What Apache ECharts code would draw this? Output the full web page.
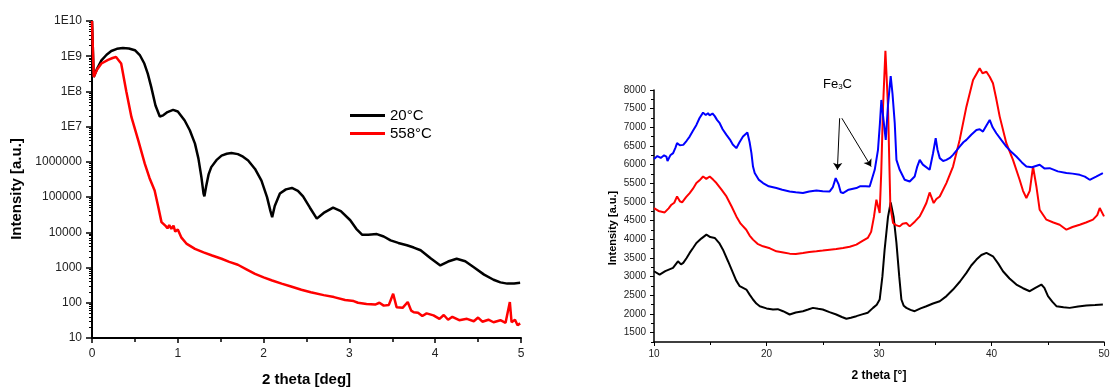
<!DOCTYPE html>
<html>
<head>
<meta charset="utf-8">
<script src="https://cdn.jsdelivr.net/npm/echarts@6/dist/echarts.min.js"></script>
<style>html,body{margin:0;padding:0;background:#fff}#c{width:1111px;height:387px}</style>
</head>
<body>
<div id="c"></div>
<script>
// ---------- Left chart (XRR, log scale) ----------
const leftLegend = ['20°C', '558°C'];
const left20X = [0, 0.02, 0.06, 0.11, 0.17, 0.225, 0.29, 0.36, 0.43, 0.5, 0.56, 0.61, 0.65, 0.69, 0.74, 0.79, 0.83, 0.88, 0.945, 1.0, 1.08, 1.14, 1.2, 1.24, 1.275, 1.3, 1.31, 1.33, 1.36, 1.39, 1.45, 1.51, 1.57, 1.625, 1.7, 1.76, 1.82, 1.9, 1.975, 2.04, 2.08, 2.1, 2.13, 2.19, 2.26, 2.33, 2.4, 2.46, 2.54, 2.62, 2.7, 2.81, 2.9, 3.01, 3.08, 3.15, 3.22, 3.32, 3.4, 3.48, 3.57, 3.67, 3.75, 3.83, 3.95, 4.06, 4.15, 4.25, 4.35, 4.45, 4.57, 4.68, 4.76, 4.84, 4.92, 4.99];
const left20Y = [1e10, 2.57e8, 4.47e8, 7.6e8, 1.1e9, 1.41e9, 1.62e9, 1.7e9, 1.66e9, 1.48e9, 1.05e9, 6.2e8, 3.2e8, 1.35e8, 4e7, 1.95e7, 2.1e7, 2.6e7, 3.0e7, 2.7e7, 1.5e7, 7.9e6, 3.3e6, 1.26e6, 3.7e5, 1.26e5, 1.05e5, 2.0e5, 4.5e5, 7.1e5, 1.12e6, 1.51e6, 1.7e6, 1.78e6, 1.66e6, 1.41e6, 1.1e6, 6.3e5, 2.95e5, 1.0e5, 4.0e4, 2.7e4, 5.6e4, 1.26e5, 1.66e5, 1.82e5, 1.51e5, 1.05e5, 5.0e4, 2.45e4, 3.55e4, 5.0e4, 4.0e4, 2.2e4, 1.26e4, 8500, 8500, 8900, 7600, 5900, 5000, 4300, 3700, 3100, 1800, 1150, 1480, 1780, 1510, 1020, 630, 450, 380, 350, 355, 370];
const left558X = [0, 0.02, 0.06, 0.11, 0.187, 0.24, 0.28, 0.3, 0.34, 0.4, 0.46, 0.54, 0.615, 0.67, 0.73, 0.77, 0.81, 0.86, 0.88, 0.9, 0.925, 0.95, 0.97, 1.0, 1.04, 1.1, 1.2, 1.3, 1.4, 1.51, 1.6, 1.7, 1.8, 1.9, 2.0, 2.1, 2.21, 2.32, 2.44, 2.55, 2.7, 2.82, 2.95, 3.05, 3.1, 3.2, 3.3, 3.35, 3.4, 3.46, 3.51, 3.55, 3.62, 3.68, 3.72, 3.75, 3.8, 3.85, 3.9, 3.98, 4.05, 4.1, 4.15, 4.2, 4.28, 4.37, 4.45, 4.5, 4.55, 4.62, 4.68, 4.76, 4.82, 4.87, 4.89, 4.93, 4.96, 4.99];
const left558Y = [1e10, 2.57e8, 4.2e8, 6.2e8, 7.9e8, 8.9e8, 9.5e8, 9.3e8, 6.2e8, 1e8, 1.86e7, 4e6, 8.9e5, 3.5e5, 1.55e5, 5.6e4, 1.95e4, 1.5e4, 1.3e4, 1.6e4, 1.25e4, 1.55e4, 1.05e4, 1.2e4, 7200, 4800, 3400, 2700, 2200, 1780, 1450, 1200, 890, 660, 525, 430, 350, 290, 235, 200, 165, 145, 120, 112, 100, 93, 89, 100, 83, 87, 180, 75, 72, 105, 60, 54, 52, 42, 50, 44, 35, 45, 33, 40, 32, 35, 30, 38, 29, 33, 28, 32, 27, 105, 28, 33, 23, 26];

// ---------- Right chart (XRD) ----------
const rightNames = ['sample A', 'sample B', 'sample C'];
const blueX = [10.0, 10.3, 10.6, 10.9, 11.1, 11.2, 11.45, 11.7, 11.9, 12.05, 12.3, 12.6, 12.9, 13.17, 13.45, 13.77, 14.05, 14.36, 14.6, 14.8, 14.95, 15.2, 15.4, 15.6, 15.84, 16.1, 16.44, 16.8, 17.0, 17.32, 17.6, 17.91, 18.3, 18.5, 18.66, 18.8, 18.95, 19.3, 19.69, 20.2, 20.88, 21.4, 22.06, 22.6, 23.24, 23.8, 24.44, 25.0, 25.62, 25.9, 26.15, 26.4, 26.6, 26.8, 27.3, 27.99, 28.3, 28.8, 29.17, 29.62, 29.91, 30.08, 30.21, 30.4, 30.6, 30.8, 31.04, 31.2, 31.4, 31.55, 31.84, 32.28, 32.73, 33.17, 33.4, 33.62, 33.9, 34.06, 34.5, 34.8, 35.04, 35.2, 35.4, 35.7, 35.99, 36.3, 36.58, 36.9, 37.17, 37.5, 37.77, 38.2, 38.66, 38.95, 39.24, 39.55, 39.84, 40.1, 40.43, 40.9, 41.32, 41.8, 42.21, 42.7, 43.1, 43.6, 44.28, 44.7, 45.17, 45.9, 46.66, 47.2, 47.84, 48.3, 48.73, 49.3, 49.9];
const blueY = [6150, 6230, 6180, 6250, 6218, 6100, 6250, 6309, 6450, 6576, 6520, 6530, 6640, 6752, 6900, 7065, 7250, 7394, 7330, 7380, 7320, 7370, 7300, 7200, 7110, 6950, 6797, 6650, 6540, 6442, 6600, 6752, 6860, 6600, 6309, 5950, 5774, 5600, 5507, 5420, 5373, 5330, 5283, 5260, 5240, 5280, 5310, 5290, 5283, 5400, 5640, 5480, 5260, 5240, 5330, 5373, 5420, 5420, 5416, 5862, 6397, 7100, 7733, 7200, 6664, 7600, 8374, 7900, 7110, 6129, 5862, 5595, 5550, 5684, 5950, 6129, 6000, 5996, 5862, 6300, 6709, 6400, 6175, 6100, 6129, 6180, 6263, 6380, 6485, 6600, 6664, 6800, 6931, 6950, 6886, 7050, 7198, 7000, 6842, 6650, 6485, 6330, 6218, 6060, 5950, 5930, 5996, 5900, 5907, 5820, 5774, 5760, 5728, 5680, 5595, 5680, 5774];
const redX = [10.0, 10.4, 10.95, 11.3, 11.55, 11.8, 12.05, 12.3, 12.5, 12.85, 13.17, 13.45, 13.77, 14.05, 14.36, 14.65, 14.95, 15.25, 15.55, 16.0, 16.44, 16.9, 17.32, 17.7, 18.2, 18.5, 18.8, 19.2, 19.69, 20.3, 20.88, 21.5, 22.06, 22.6, 23.24, 23.8, 24.44, 25.0, 25.62, 26.2, 26.8, 27.4, 27.99, 28.5, 29.0, 29.3, 29.55, 29.77, 30.06, 30.2, 30.36, 30.57, 30.8, 31.01, 31.25, 31.5, 31.84, 32.1, 32.43, 32.73, 33.2, 33.62, 33.9, 34.21, 34.5, 34.86, 35.1, 35.4, 35.99, 36.58, 37.17, 37.77, 38.36, 38.7, 38.95, 39.2, 39.55, 39.85, 40.13, 40.4, 40.73, 41.32, 41.91, 42.5, 42.8, 43.1, 43.4, 43.69, 43.99, 44.28, 44.88, 45.5, 46.06, 46.66, 47.2, 47.84, 48.4, 49.02, 49.4, 49.62, 50.0];
const redY = [4838, 4760, 4721, 4830, 4927, 4980, 5149, 5020, 4990, 5130, 5240, 5350, 5507, 5580, 5684, 5620, 5684, 5600, 5507, 5330, 5149, 4880, 4614, 4420, 4258, 4100, 3992, 3880, 3813, 3760, 3679, 3650, 3617, 3610, 3636, 3660, 3679, 3700, 3724, 3740, 3769, 3800, 3858, 3950, 4037, 4200, 4600, 5060, 4704, 5800, 7554, 9050, 7554, 4881, 4437, 4380, 4347, 4420, 4437, 4347, 4480, 4614, 4780, 4972, 5256, 4972, 5080, 5149, 5507, 5950, 6664, 7554, 8267, 8450, 8580, 8450, 8489, 8350, 8179, 7800, 7287, 6575, 6129, 5595, 5300, 5106, 5300, 5950, 5416, 4793, 4526, 4450, 4392, 4258, 4330, 4392, 4450, 4526, 4650, 4838, 4614];
const blackX = [10.0, 10.5, 11.0, 11.69, 12.13, 12.4, 12.6, 12.9, 13.17, 13.5, 13.77, 14.2, 14.66, 15.0, 15.4, 15.8, 16.13, 16.6, 17.02, 17.3, 17.62, 18.21, 18.5, 18.8, 19.1, 19.4, 20.0, 20.58, 21.0, 21.47, 22.06, 22.6, 23.24, 23.7, 24.13, 24.6, 25.0, 25.6, 26.2, 26.7, 27.1, 27.5, 27.99, 28.5, 29.0, 29.47, 29.8, 30.06, 30.3, 30.5, 30.8, 31.04, 31.3, 31.55, 31.8, 31.99, 32.2, 32.43, 32.8, 33.17, 33.7, 34.21, 34.8, 35.4, 36.0, 36.58, 37.2, 37.77, 38.2, 38.66, 39.1, 39.55, 40.13, 40.6, 41.02, 41.6, 42.21, 42.8, 43.4, 43.9, 44.43, 44.7, 45.02, 45.4, 45.77, 46.4, 46.95, 47.7, 48.43, 49.2, 49.9];
const blackY = [3145, 3056, 3150, 3234, 3412, 3330, 3370, 3500, 3636, 3780, 3903, 4020, 4125, 4060, 4037, 3900, 3724, 3400, 3101, 2900, 2744, 2655, 2520, 2388, 2280, 2209, 2150, 2120, 2130, 2075, 1987, 2040, 2075, 2120, 2164, 2140, 2120, 2050, 1987, 1920, 1872, 1900, 1942, 1990, 2032, 2164, 2250, 2388, 3000, 3724, 4600, 4988, 4600, 3903, 3000, 2388, 2220, 2164, 2110, 2075, 2150, 2209, 2280, 2343, 2480, 2655, 2870, 3101, 3300, 3457, 3580, 3636, 3546, 3350, 3145, 2950, 2789, 2690, 2610, 2700, 2789, 2700, 2476, 2330, 2209, 2180, 2164, 2200, 2227, 2240, 2253];
const rightYTicks = [1500, 2000, 2500, 3000, 3500, 4000, 4500, 5000, 5500, 6000, 6500, 7000, 7500, 8000];
const rightYMinor = [1250, 1750, 2250, 2750, 3250, 3750, 4250, 4750, 5250, 5750, 6250, 6750, 7250, 7750];
const arrowFrom = [[26.5, 7243], [26.7, 7243]];
const arrowTo = [[26.3, 5861], [29.3, 5949]];

const zip = (xs, ys) => xs.map((x, i) => [x, ys[i]]);
// minor log ticks (2..9 per decade) expressed as exponents on an overlay linear axis
const logMinor = [];
for (let d = 1; d < 10; d++) for (let k = 2; k <= 9; k++) logMinor.push(d + Math.log10(k));

const FONT = 'Liberation Sans, Arial, sans-serif';
const chart = echarts.init(document.getElementById('c'), null, {renderer: 'canvas'});
chart.setOption({
  animation: false,
  backgroundColor: '#fff',
  textStyle: {fontFamily: FONT},
  grid: [
    {left: 92, top: 21, width: 429, height: 317, outerBoundsMode: 'none', containLabel: false},
    {left: 654, top: 90, width: 450, height: 252, outerBoundsMode: 'none', containLabel: false}
  ],
  legend: {
    data: leftLegend,
    orient: 'vertical',
    left: 345, top: 103,
    itemWidth: 35, itemHeight: 3, itemGap: 3,
    icon: 'rect',
    textStyle: {fontSize: 15, color: '#000', fontFamily: FONT}
  },
  xAxis: [
    {gridIndex: 0, type: 'value', min: 0, max: 5, interval: 1,
     name: '2 theta [deg]', nameLocation: 'middle', nameGap: 34,
     nameTextStyle: {fontSize: 15, fontWeight: 'bold', color: '#000', fontFamily: FONT},
     axisLine: {lineStyle: {color: '#000', width: 2}},
     axisTick: {inside: false, length: 5, lineStyle: {color: '#000', width: 1.5}},
     minorTick: {show: true, splitNumber: 2, length: 4, lineStyle: {color: '#000', width: 1.5}},
     axisLabel: {fontSize: 12, color: '#222', margin: 10, fontFamily: FONT},
     splitLine: {show: false}, minorSplitLine: {show: false}},
    {gridIndex: 1, type: 'value', min: 10, max: 50, interval: 10,
     name: '2 theta [°]', nameLocation: 'middle', nameGap: 28,
     nameTextStyle: {fontSize: 12, fontWeight: 'bold', color: '#000', fontFamily: FONT},
     axisLine: {lineStyle: {color: '#000', width: 1.5}},
     axisTick: {inside: false, length: 4, lineStyle: {color: '#000', width: 1}},
     minorTick: {show: true, splitNumber: 2, length: 3, lineStyle: {color: '#000', width: 1}},
     axisLabel: {fontSize: 10, color: '#222', margin: 7, fontFamily: FONT},
     splitLine: {show: false}, minorSplitLine: {show: false}}
  ],
  yAxis: [
    {gridIndex: 0, type: 'log', logBase: 10, min: 10, max: 1e10, position: 'left',
     name: 'Intensity [a.u.]', nameLocation: 'middle', nameGap: 68,
     nameTextStyle: {fontSize: 15, fontWeight: 'bold', color: '#000', fontFamily: FONT, padding: [0, 19, 0, 0]},
     axisLine: {show: true, lineStyle: {color: '#000', width: 2}},
     axisTick: {inside: false, length: 6, lineStyle: {color: '#000', width: 1.5}},
     axisLabel: {fontSize: 12, color: '#222', margin: 10, fontFamily: FONT,
       formatter: v => v >= 1e7 ? '1E' + Math.round(Math.log10(v)) : String(Math.round(v))},
     splitLine: {show: false}},
    {gridIndex: 0, type: 'value', min: 1, max: 10, position: 'left', offset: 0,
     axisLine: {show: false, onZero: false}, axisLabel: {show: false}, splitLine: {show: false},
     axisTick: {show: true, inside: false, length: 3, customValues: logMinor, lineStyle: {color: '#000', width: 1}}},
    {gridIndex: 1, type: 'value', min: 1250, max: 8000, position: 'left',
     name: 'Intensity [a.u.]', nameLocation: 'middle', nameGap: 36,
     nameTextStyle: {fontSize: 11, fontWeight: 'bold', color: '#000', fontFamily: FONT, padding: [0, 24, 0, 0]},
     axisLine: {show: true, lineStyle: {color: '#000', width: 1.5}},
     axisTick: {inside: false, length: 4, customValues: rightYTicks, lineStyle: {color: '#000', width: 1}},
     axisLabel: {fontSize: 10, color: '#222', margin: 8, customValues: rightYTicks, fontFamily: FONT,
       formatter: v => String(v)},
     splitLine: {show: false}},
    {gridIndex: 1, type: 'value', min: 1250, max: 8000, position: 'left', offset: 0,
     axisLine: {show: false, onZero: false}, axisLabel: {show: false}, splitLine: {show: false},
     axisTick: {show: true, inside: false, length: 3, customValues: rightYMinor, lineStyle: {color: '#000', width: 1}}}
  ],
  series: [
    {name: leftLegend[0], type: 'line', xAxisIndex: 0, yAxisIndex: 0, data: zip(left20X, left20Y),
     showSymbol: false, color: '#000', lineStyle: {color: '#000', width: 2.5}, z: 3},
    {name: leftLegend[1], type: 'line', xAxisIndex: 0, yAxisIndex: 0, data: zip(left558X, left558Y),
     showSymbol: false, color: '#ff0000', lineStyle: {color: '#ff0000', width: 2.5}, z: 4},
    {name: rightNames[0], type: 'line', xAxisIndex: 1, yAxisIndex: 2, data: zip(blackX, blackY),
     showSymbol: false, clip: false, lineStyle: {color: '#000', width: 2}},
    {name: rightNames[1], type: 'line', xAxisIndex: 1, yAxisIndex: 2, data: zip(redX, redY),
     showSymbol: false, clip: false, lineStyle: {color: '#ff0000', width: 2}},
    {name: rightNames[2], type: 'line', xAxisIndex: 1, yAxisIndex: 2, data: zip(blueX, blueY),
     showSymbol: false, clip: false, lineStyle: {color: '#0000ff', width: 2},
     markLine: {silent: true, symbol: ['none', 'arrow'], symbolSize: 7,
       lineStyle: {color: '#000', width: 1, type: 'solid'}, label: {show: false},
       data: arrowFrom.map((p, i) => [{coord: p}, {coord: arrowTo[i]}])}}
  ],
  graphic: [
    {type: 'text', left: 823, top: 78,
     style: {text: '{n|Fe}{s|3}{n|C}', rich: {n: {fontSize: 13, fontFamily: FONT, fill: '#000'}, s: {fontSize: 8, fontFamily: FONT, fill: '#000', verticalAlign: 'bottom', padding: [4, 0, 0, 0]}}}}
  ]
});
</script>
</body>
</html>
